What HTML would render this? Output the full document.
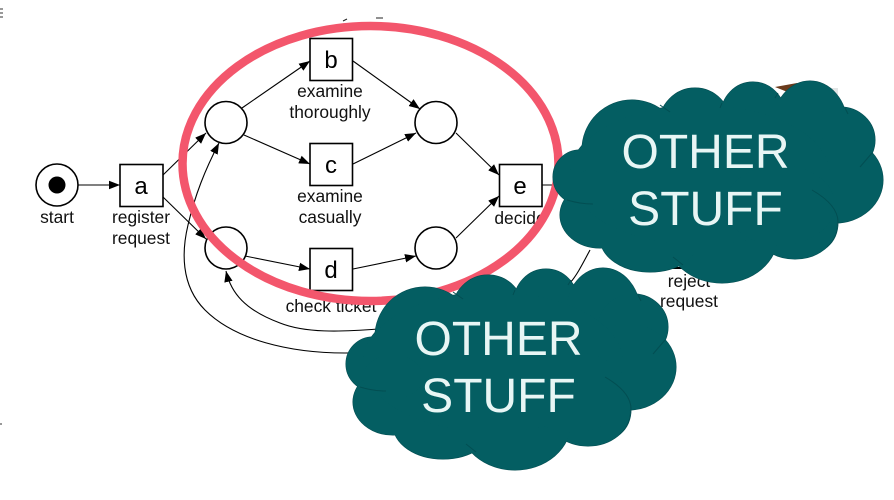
<!DOCTYPE html>
<html><head><meta charset="utf-8"><style>
html,body{margin:0;padding:0;background:#fff}
svg{display:block}
text{font-family:"Liberation Sans",sans-serif}
.l{font-size:17.4px;text-anchor:middle;fill:#111}
.n{font-size:24px;text-anchor:middle;fill:#000}
.o{font-size:48px;text-anchor:middle;fill:#e8f6f5}
.s{fill:#fff;stroke:#000;stroke-width:1.6}
.e{fill:none;stroke:#000;stroke-width:1.1;marker-end:url(#a)}
.c{fill:none;stroke:#000;stroke-width:1}
</style></head><body>
<svg width="894" height="500" viewBox="0 0 894 500" xmlns="http://www.w3.org/2000/svg">
<defs>
<marker id="a" markerUnits="userSpaceOnUse" markerWidth="12" markerHeight="10" refX="11" refY="5" orient="auto"><path d="M0 .8L11 5L0 9.2z" fill="#000"/></marker>
<g id="lobes">
<ellipse cx="580" cy="177" rx="27" ry="27"/>
<ellipse cx="600" cy="215" rx="40" ry="33"/>
<ellipse cx="632" cy="150" rx="50" ry="50"/>
<ellipse cx="695" cy="125" rx="36" ry="37"/>
<ellipse cx="753" cy="115" rx="32" ry="33"/>
<ellipse cx="810" cy="125" rx="37" ry="44"/>
<ellipse cx="840" cy="140" rx="35" ry="33"/>
<ellipse cx="835" cy="180" rx="48" ry="43"/>
<ellipse cx="795" cy="225" rx="42" ry="34"/>
<ellipse cx="722" cy="235" rx="56" ry="48"/>
<ellipse cx="650" cy="238" rx="50" ry="34"/>
<ellipse cx="700" cy="175" rx="130" ry="70"/>
<ellipse cx="600" cy="190" rx="30" ry="22"/>
<ellipse cx="780" cy="205" rx="55" ry="40"/>
</g>
<g id="cloud">
<use href="#lobes" fill="#045e62" stroke="#034c50" stroke-width="1"/>
<use href="#lobes" fill="#045e62"/>
<path fill="none" stroke="#034e52" stroke-width="1" d="M812 190Q838 205 838 222Q838 238 827 247M567 200Q580 204 593 204M660 105L670 112M722 103L720 108M778 93L775 98M845 108L848 114M872 153L860 167M673 257L683 265"/>
</g>
</defs>
<rect width="894" height="500" fill="#fff"/>
<path d="M0 9h3M0 13h3M0 17h3M0 424h2" stroke="#333" stroke-width="1"/>
<path d="M343 21l4-2M376 18h7" stroke="#222" stroke-width="1"/>
<path d="M775 87L790 93L805 86L797 83z" fill="#6a3b1c"/>
<path d="M827 88h11v7h-8z" fill="#e2e5e5"/>
<path d="M667 268h16" stroke="#000" stroke-width="2"/>

<path class="e" d="M78 185H120"/>
<path class="e" d="M163 175L206 133"/>
<path class="e" d="M163 197L206 239"/>
<path class="e" d="M242 108L310 61"/>
<path class="e" d="M244 135L310 164"/>
<path class="e" d="M353 61L420 109"/>
<path class="e" d="M353 164L416 133"/>
<path class="e" d="M245 256L310 269"/>
<path class="e" d="M353 269L416 256"/>
<path class="e" d="M456 133L499 175"/>
<path class="e" d="M456 238L499 196"/>
<path class="c" d="M542 185H560"/>
<path class="e" d="M378 329C340 332 305 333 280 323C245 310 231 293 226 271"/>
<path class="e" d="M590 250C582 265 577 275 570 283C540 325 450 353 345 353C290 353 235 340 205 310C180 285 182 250 188 225C195 195 205 170 219 143"/>

<circle class="s" cx="57" cy="185" r="21"/>
<circle cx="57" cy="185" r="8.5" fill="#000"/>
<rect class="s" x="120" y="164.500" width="43" height="42"/>
<rect class="s" x="310" y="38.500" width="42.500" height="42"/>
<rect class="s" x="310" y="143.500" width="42.500" height="42"/>
<rect class="s" x="310" y="248.500" width="42.500" height="42"/>
<rect class="s" x="499.500" y="164.500" width="42.500" height="42"/>
<circle class="s" cx="226" cy="122.500" r="21"/>
<circle class="s" cx="226" cy="248" r="21"/>
<circle class="s" cx="436" cy="122.500" r="21"/>
<circle class="s" cx="436" cy="248" r="21"/>

<text class="n" x="141" y="194">a</text>
<text class="n" x="331" y="68">b</text>
<text class="n" x="331" y="173">c</text>
<text class="n" x="331" y="278">d</text>
<text class="n" x="520" y="194">e</text>

<text class="l" x="57" y="223">start</text>
<text class="l" x="141" y="223">register</text>
<text class="l" x="141" y="244">request</text>
<text class="l" x="330" y="97">examine</text>
<text class="l" x="330" y="118">thoroughly</text>
<text class="l" x="330" y="202">examine</text>
<text class="l" x="330" y="223">casually</text>
<text class="l" x="331" y="312">check ticket</text>
<text class="l" x="520" y="224">decide</text>
<text class="l" x="689" y="287">reject</text>
<text class="l" x="689" y="307">request</text>

<ellipse cx="370.500" cy="163.500" rx="188" ry="137.500" fill="none" stroke="#f3566c" stroke-width="8.500"/>

<use href="#cloud"/>
<text class="o" x="705.500" y="168">OTHER</text>
<text class="o" x="705.500" y="225">STUFF</text>
<use href="#cloud" transform="translate(-207 187)"/>
<text class="o" x="498.500" y="355">OTHER</text>
<text class="o" x="498.500" y="412">STUFF</text>
</svg>
</body></html>
